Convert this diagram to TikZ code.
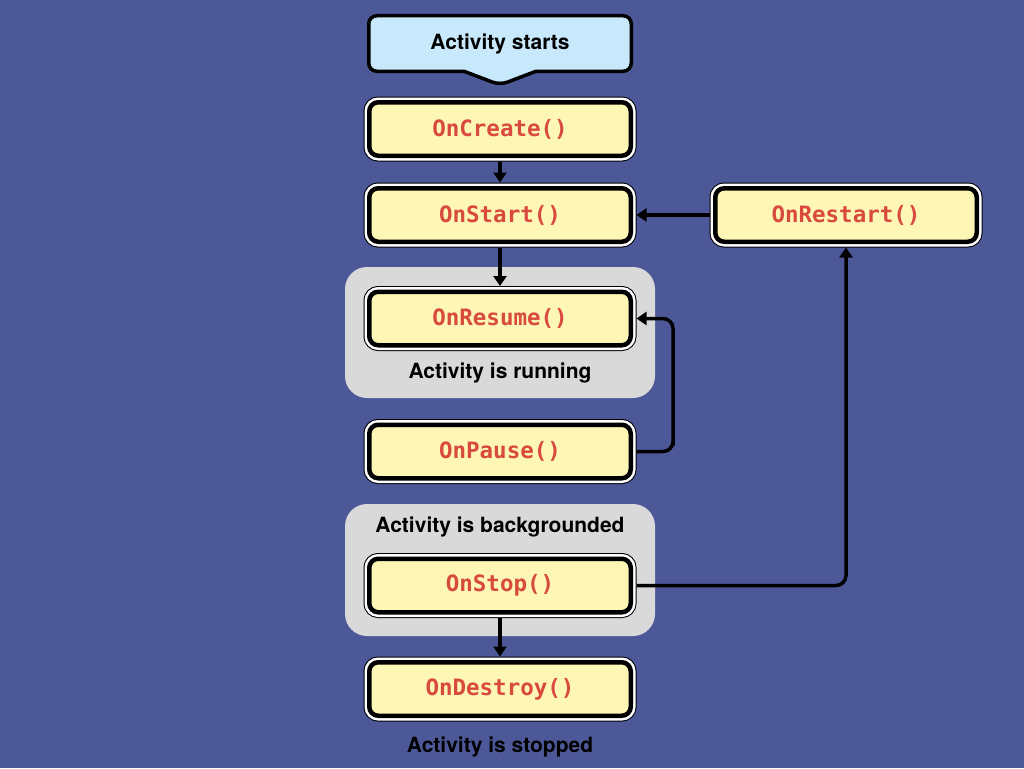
\documentclass[tikz,border=0pt]{standalone}
\usepackage{fontspec}
\setmainfont{TeX Gyre Heros}
\setmonofont{DejaVu Sans Mono}
\usetikzlibrary{arrows.meta, shapes.callouts}
\definecolor{bgblue}{RGB}{76,88,152}
\definecolor{panelgray}{RGB}{217,217,217}
\definecolor{boxyellow}{RGB}{253,246,181}
\definecolor{codered}{RGB}{217,74,62}
\definecolor{startblue}{RGB}{200,232,252}

\begin{document}
\begin{tikzpicture}[x=1pt, y=-1pt,
  call/.style={draw=black, line width=4.5pt, fill=boxyellow, rounded corners=9pt,
    minimum width=261.5pt, minimum height=53.5pt, inner sep=0pt, outer sep=5.75pt,
    preaction={draw=black, line width=11.5pt},
    preaction={draw=white, line width=9.5pt},
    text=codered, font=\fontsize{22.5}{26}\selectfont\ttfamily\bfseries},
  startbox/.style={rectangle callout, draw=black, line width=3.5pt, fill=startblue,
    rounded corners=8pt, minimum width=262.5pt, minimum height=55.5pt,
    callout pointer width=72pt, inner sep=0pt,
    font=\fontsize{21}{25}\selectfont\bfseries},
  statetext/.style={font=\fontsize{21}{25}\selectfont\bfseries},
  flow/.style={line width=3.5pt, -{Triangle[length=10pt,width=13pt]}}]
\useasboundingbox (0,0) rectangle (1024,768);
\fill[bgblue] (0,0) rectangle (1024,768);

% grey state panels
\fill[panelgray, rounded corners=22pt] (345,267) rectangle (655,398);
\fill[panelgray, rounded corners=22pt] (345,504) rectangle (655,636);

\node[startbox, callout absolute pointer={(500,85)}] (L0) at (500,43.5) {Activity starts};

\node[call] (L1) at (500,129) {OnCreate()};
\node[call] (L2) at (500,215) {OnStart()};
\node[call] (L3) at (500,318.5) {OnResume()};
\node[call] (L4) at (500,451.5) {OnPause()};
\node[call] (L5) at (500,585.5) {OnStop()};
\node[call] (L6) at (500,689) {OnDestroy()};
\node[call] (L7) at (846,215) {OnRestart()};

\node[statetext] (S1) at (500,373) {Activity is running};
\node[statetext] (S2) at (500,527) {Activity is backgrounded};
\node[statetext] (S3) at (500,746.5) {Activity is stopped};

\coordinate (turn) at (673,451.5);

\draw[flow] (L1) -- (L2);
\draw[flow] (L2) -- (L3);
\draw[flow] (L5) -- (L6);
\draw[flow] (L7) -- (L2);
\draw[flow, rounded corners=10pt] (L4.east) -| (turn) |- (L3.east);
\draw[flow, rounded corners=10pt] (L5.east) -| (L7.south);

\end{tikzpicture}
\end{document}
